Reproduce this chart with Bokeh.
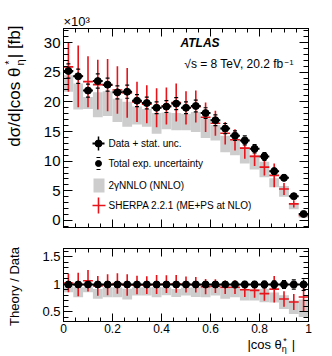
import numpy as np
from bokeh.plotting import figure
from bokeh.models import (ColumnDataSource, LinearAxis, FixedTicker,
                          CustomJSTickFormatter, Span, Range1d)
from bokeh.layouts import column, row
from bokeh.core.properties import value
from bokeh.embed import file_html
from bokeh.resources import INLINE

# ---------------- data (units: 10^3 fb) ----------------
edges = [0.00, 0.04, 0.08, 0.12, 0.16, 0.20, 0.24, 0.28, 0.32, 0.36, 0.40, 0.44, 0.48,
         0.52, 0.56, 0.60, 0.64, 0.68, 0.72, 0.76, 0.80, 0.84, 0.88, 0.92, 0.96, 1.00]
data_val = [25.2, 24.3, 21.9, 23.5, 22.9, 21.6, 21.7, 20.2, 19.8, 19.0, 19.2, 19.7, 19.0,
            19.3, 18.1, 16.9, 15.5, 14.3, 13.5, 12.1, 10.8, 8.3, 7.2, 4.1, 1.1]
data_stat = [0.5, 0.5, 0.45, 0.45, 0.45, 0.45, 0.45, 0.4, 0.4, 0.4, 0.4, 0.4, 0.4,
             0.4, 0.4, 0.35, 0.35, 0.35, 0.35, 0.3, 0.3, 0.3, 0.25, 0.2, 0.1]
data_total = [1.2, 1.2, 1.1, 1.2, 1.1, 1.1, 1.1, 1.0, 1.0, 1.0, 1.0, 1.0, 1.0,
              1.0, 0.9, 0.9, 0.85, 0.8, 0.75, 0.7, 0.65, 0.55, 0.5, 0.35, 0.12]
nnlo_low = [21.7, 18.7, 18.8, 17.4, 17.6, 16.6, 15.8, 16.2, 15.8, 14.6, 15.4, 15.2, 15.2,
            14.9, 13.9, 13.5, 11.5, 11.0, 9.6, 8.6, 7.3, 5.6, 4.0, 1.9, 0.45]
nnlo_high = [24.5, 23.1, 20.8, 21.6, 21.8, 20.5, 20.0, 19.2, 18.8, 18.1, 18.2, 18.1, 18.0,
             18.3, 17.2, 16.1, 14.3, 13.6, 12.4, 11.1, 9.9, 7.1, 5.8, 2.9, 0.8]
sherpa_val = [25.9, 24.3, 23.4, 22.9, 22.8, 22.0, 21.5, 20.0, 19.6, 19.0, 19.3, 19.9, 19.0,
              19.2, 17.4, 16.4, 14.7, 13.6, 12.2, 10.8, 9.0, 7.6, 5.3, 2.8, 0.85]
sherpa_err = [4.2, 5.2, 4.3, 4.2, 4.4, 4.0, 4.2, 3.4, 3.2, 3.3, 3.1, 3.2, 2.8,
              2.7, 2.5, 2.1, 1.9, 1.8, 1.8, 1.6, 1.4, 2.0, 1.0, 0.6, 0.3]

x_major = [0, 0.2, 0.4, 0.6, 0.8, 1.0]
y_major_top = [0, 5, 10, 15, 20, 25, 30]
y_major_ratio = [0.5, 1.0, 1.5]

legend_labels = ["Data + stat. unc.", "Total exp. uncertainty", "2\u03b3NNLO (NNLO)",
                 "SHERPA 2.2.1 (ME+PS at NLO)"]

FONT = "Liberation Sans"
GRAY = "#cdcdcd"
RED = "#e8141c"
DESC = 0.212   # font descent (em) used to place texts by their baseline

lo = np.array(edges[:-1]); hi = np.array(edges[1:]); mid = (lo + hi) / 2
d = np.array(data_val); st = np.array(data_stat); tot = np.array(data_total)
nl = np.array(nnlo_low); nh = np.array(nnlo_high)
sv = np.array(sherpa_val); se = np.array(sherpa_err)

top_src = ColumnDataSource(dict(lo=lo, hi=hi, mid=mid, y=d, s_lo=d - st, s_hi=d + st,
                                t_lo=d - tot, t_hi=d + tot, n_lo=nl, n_hi=nh,
                                sh=sv, sh_lo=sv - se, sh_hi=sv + se))
r = d / d
rat_src = ColumnDataSource(dict(lo=lo, hi=hi, mid=mid, y=r, s_lo=r - st / d, s_hi=r + st / d,
                                t_lo=r - tot / d, t_hi=r + tot / d, n_lo=nl / d, n_hi=nh / d,
                                sh=sv / d, sh_lo=(sv - se) / d, sh_hi=(sv + se) / d))

# ---------------- layout geometry (page pixels) ----------------
LEFT_W = 30          # text strip for the rotated y titles
COL_W = 294          # width of the plot column
BOT_H = 18           # strip holding the x title
TOTAL_H = 355

Y0, Y1 = -1.18, 32.36
p1 = figure(width=COL_W, height=237, x_range=Range1d(0, 1), y_range=Range1d(Y0, Y1),
            min_border_left=33, min_border_right=16, min_border_top=28, min_border_bottom=10,
            output_backend="svg", toolbar_location=None)
p2 = figure(width=COL_W, height=100, x_range=p1.x_range, y_range=Range1d(0.327, 1.6545),
            min_border_left=33, min_border_right=16, min_border_top=11, min_border_bottom=16,
            output_backend="svg", toolbar_location=None)

# the x10^3 factor sits above the top frame, left aligned
p1.title.text = "\u00d710\u00b3"
p1.title.align = "left"
p1.title.text_font = FONT
p1.title.text_font_size = "13px"
p1.title.text_font_style = "normal"
p1.title.text_color = "black"
p1.title.standoff = 0
p1.title.offset = 0

fmt = CustomJSTickFormatter(code="return String(Math.round(tick*10)/10)")


def style(ax, ticks, minor, label_size, maj, mnr, standoff=3):
    ax.ticker = FixedTicker(ticks=ticks, minor_ticks=minor)
    ax.major_tick_in = maj; ax.major_tick_out = 0
    ax.minor_tick_in = mnr; ax.minor_tick_out = 0
    ax.axis_line_color = "black"; ax.major_tick_line_color = "black"
    ax.minor_tick_line_color = "black"
    if label_size is None:
        ax.major_label_text_color = None
        ax.major_label_standoff = 0
    else:
        ax.formatter = fmt
        ax.major_label_text_font = FONT
        ax.major_label_text_font_size = label_size
        ax.major_label_text_color = "black"
        ax.major_label_standoff = standoff


x_minor = [i * 0.05 for i in range(21)]
y_minor_top = list(range(-1, 33))
y_minor_ratio = [0.3 + i * 0.1 for i in range(15)]

for p, ymaj, ymin_, ysize, xsize in ((p1, y_major_top, y_minor_top, "15px", None),
                                      (p2, y_major_ratio, y_minor_ratio, "13px", "12px")):
    p.xgrid.visible = False; p.ygrid.visible = False
    p.outline_line_color = "black"
    p.background_fill_color = "white"; p.border_fill_color = "white"
    style(p.xaxis[0], x_major, x_minor, xsize, 8, 4, standoff=2)
    style(p.yaxis[0], ymaj, ymin_, ysize, 9, 5)
    ta = LinearAxis(); style(ta, x_major, x_minor, None, 8, 4); p.add_layout(ta, "above")
    ra = LinearAxis(); style(ra, ymaj, ymin_, None, 9, 5); p.add_layout(ra, "right")

# ---------------- top panel ----------------
p1.quad(left="lo", right="hi", bottom="n_lo", top="n_hi", source=top_src,
        fill_color=GRAY, line_color=None)
p1.segment(x0="mid", x1="mid", y0="sh_lo", y1="sh_hi", source=top_src, line_color=RED, line_width=1.6)
p1.segment(x0="lo", x1="hi", y0="sh", y1="sh", source=top_src, line_color=RED, line_width=1.6)
p1.segment(x0="lo", x1="hi", y0="y", y1="y", source=top_src, line_color="black", line_width=2)
p1.segment(x0="mid", x1="mid", y0="s_lo", y1="s_hi", source=top_src, line_color="black", line_width=1.5)
for c in ("t_lo", "t_hi"):
    p1.rect(x="mid", y=c, width=4, height=1.2, width_units="screen", height_units="screen",
            source=top_src, fill_color="black", line_color=None)
p1.scatter(x="mid", y="y", source=top_src, size=7, fill_color="black", line_color="black")

# ---------------- ratio panel ----------------
p2.quad(left="lo", right="hi", bottom="n_lo", top="n_hi", source=rat_src,
        fill_color=GRAY, line_color=None)
p2.add_layout(Span(location=1, dimension="width", line_color="black", line_width=2))
p2.segment(x0="mid", x1="mid", y0="sh_lo", y1="sh_hi", source=rat_src, line_color=RED, line_width=1.6)
p2.segment(x0="lo", x1="hi", y0="sh", y1="sh", source=rat_src, line_color=RED, line_width=1.6)
p2.segment(x0="mid", x1="mid", y0="s_lo", y1="s_hi", source=rat_src, line_color="black", line_width=1.5)
for c in ("t_lo", "t_hi"):
    p2.rect(x="mid", y=c, width=4, height=1.2, width_units="screen", height_units="screen",
            source=rat_src, fill_color="black", line_color=None)
p2.scatter(x="mid", y="y", source=rat_src, size=7, fill_color="black", line_color="black")

# ---------------- legend and labels inside the top frame (page pixels -> data) ----------------
FX0, FW, FYB, FH = 63.0, 245.0, 227.0, 199.0


def X(px):
    return (px - FX0) / FW


def Y(py):
    return Y0 + (FYB - py) / FH * (Y1 - Y0)


def txt(p, x, y, t, size, **kw):
    kw.setdefault("text_baseline", "bottom")
    kw.setdefault("text_align", "left")
    p.text(x=[x], y=[y], text=[t], text_font=value(FONT), text_font_size=f"{size}px",
           text_color="black", **kw)


lx = 98.0
rows = [143.0, 163.0, 185.0, 205.0]
p1.segment(x0=[X(92)], x1=[X(104)], y0=[Y(rows[0])], y1=[Y(rows[0])], line_color="black", line_width=2)
p1.segment(x0=[X(lx)], x1=[X(lx)], y0=[Y(rows[0] - 7)], y1=[Y(rows[0] + 7)], line_color="black", line_width=1.5)
p1.scatter(x=[X(lx)], y=[Y(rows[0])], size=7, fill_color="black", line_color="black")
p1.scatter(x=[X(lx)], y=[Y(rows[1])], size=6, fill_color="black", line_color="black")
p1.rect(x=[X(lx), X(lx)], y=[Y(rows[1] - 6), Y(rows[1] + 6)], width=4, height=1.2,
        width_units="screen", height_units="screen", fill_color="black", line_color=None)
p1.quad(left=[X(93)], right=[X(104)], top=[Y(178)], bottom=[Y(192)], fill_color=GRAY, line_color=None)
p1.segment(x0=[X(92)], x1=[X(105)], y0=[Y(rows[3])], y1=[Y(rows[3])], line_color=RED, line_width=1.6)
p1.segment(x0=[X(lx)], x1=[X(lx)], y0=[Y(rows[3] - 8)], y1=[Y(rows[3] + 8)], line_color=RED, line_width=1.6)
p1.text(x=[X(108)] * 4, y=[Y(v) for v in rows], text=legend_labels, text_font=value(FONT),
        text_font_size="10px", text_baseline="middle", text_align="left", text_color="black")

# baseline (page px) -> bottom of the text box
txt(p1, X(180), Y(47 + DESC * 12), "ATLAS", 12, text_font_style="bold italic")
txt(p1, X(283), Y(68 + DESC * 12), "\u221as = 8 TeV, 20.2 fb", 12, text_align="right")
txt(p1, X(284), Y(63 + DESC * 8), "\u22121", 8)


# ---------------- text strips around the panels ----------------
def strip(w, h):
    f = figure(width=w, height=h, x_range=Range1d(0, w), y_range=Range1d(0, h),
               x_axis_type=None, y_axis_type=None, min_border=0, title=None,
               output_backend="svg", toolbar_location=None)
    f.outline_line_color = None
    f.background_fill_color = "white"; f.border_fill_color = "white"
    return f


ang = np.pi / 2
left = strip(LEFT_W, TOTAL_H)      # x = page x, y = TOTAL_H - page y
BX = 19.5                          # page x of the baseline of the rotated top title
txt(left, BX + DESC * 17, TOTAL_H - 25, "| [fb]", 17, angle=ang, text_align="right")
txt(left, BX + 4 + DESC * 11, TOTAL_H - 59, "\u03b7", 11, angle=ang, text_align="right")
txt(left, BX - 7.5 + DESC * 11, TOTAL_H - 60, "*", 11, angle=ang, text_align="right")
txt(left, BX + DESC * 17, TOTAL_H - 67, "d\u03c3/d|cos \u03b8", 17, angle=ang, text_align="right")
txt(left, 19 + DESC * 13, TOTAL_H - 286, "Theory / Data", 13, angle=ang, text_align="center")

bottom = strip(COL_W, BOT_H)       # x = page x - 30, y = TOTAL_H - page y
txt(bottom, 278, (TOTAL_H - 349) - DESC * 13, "|", 13, text_align="right")
txt(bottom, 268, (TOTAL_H - 352) - DESC * 9, "\u03b7", 9, text_align="right")
txt(bottom, 268, (TOTAL_H - 344) - DESC * 9, "*", 9, text_align="right")
txt(bottom, 262, (TOTAL_H - 349) - DESC * 13, "|cos \u03b8", 13, text_align="right")

layout = row(left, column(p1, p2, bottom))
open("out.html", "w").write(file_html(layout, INLINE))
